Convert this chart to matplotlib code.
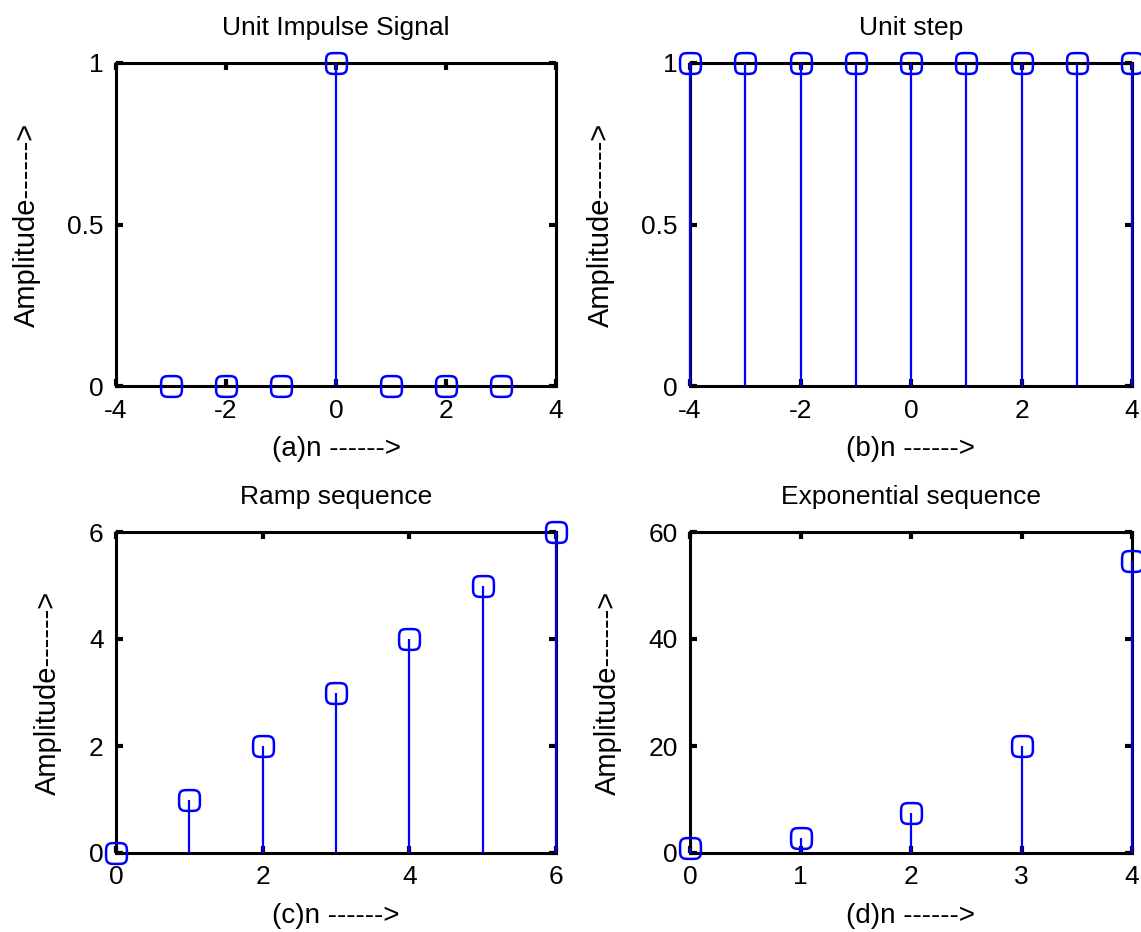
import matplotlib
matplotlib.use("Agg")
import matplotlib.pyplot as plt
from matplotlib.path import Path
import numpy as np

plt.rcParams['font.family'] = ['Liberation Sans', 'DejaVu Sans']
plt.rcParams['axes.unicode_minus'] = False

# Data
n_impulse = [-3, -2, -1, 0, 1, 2, 3]
y_impulse = [0, 0, 0, 1, 0, 0, 0]

n_step = [-4, -3, -2, -1, 0, 1, 2, 3, 4]
y_step = [1, 1, 1, 1, 1, 1, 1, 1, 1]

n_ramp = [0, 1, 2, 3, 4, 5, 6]
y_ramp = [0, 1, 2, 3, 4, 5, 6]

n_exp = [0, 1, 2, 3, 4]
y_exp = [1.0, 2.72, 7.39, 20.09, 54.6]

titles = ["Unit Impulse Signal", "Unit step", "Ramp sequence", "Exponential sequence"]
xlabels = ["(a)n ------>", "(b)n ------>", "(c)n ------>", "(d)n ------>"]
ylabel = "Amplitude------>"

xlims = [(-4, 4), (-4, 4), (0, 6), (0, 4)]
ylims = [(0, 1), (0, 1), (0, 6), (0, 60)]
xticks = [[-4, -2, 0, 2, 4], [-4, -2, 0, 2, 4], [0, 2, 4, 6], [0, 1, 2, 3, 4]]
yticks = [[0, 0.5, 1], [0, 0.5, 1], [0, 2, 4, 6], [0, 20, 40, 60]]
yticklabels = [["0", "0.5", "1"], ["0", "0.5", "1"], ["0", "2", "4", "6"], ["0", "20", "40", "60"]]

data = [(n_impulse, y_impulse), (n_step, y_step), (n_ramp, y_ramp), (n_exp, y_exp)]

# MATLAB-like low-res circle marker (rounded square shape)
t = np.linspace(0, 2 * np.pi, 81)
p = 0.5
mx = np.sign(np.cos(t)) * np.abs(np.cos(t)) ** p
my = np.sign(np.sin(t)) * np.abs(np.sin(t)) ** p
marker_path = Path(np.column_stack([mx, my]), closed=True)

W, H = 1141, 932
fig = plt.figure(figsize=(W / 100, H / 100), dpi=100)

# axes boxes in pixels: left, top, right, bottom
boxes = [(116, 63, 556, 386), (690, 63, 1132, 386),
         (116, 532, 556, 853), (690, 532, 1132, 853)]

blue = '#0000ff'
fs = 19

for i, ((xs, ys), (l, t_, r, b)) in enumerate(zip(data, boxes)):
    ax = fig.add_axes([l / W, 1 - b / H, (r - l) / W, (b - t_) / H])
    ax.vlines(xs, 0, ys, color=blue, linewidth=1.6, clip_on=False, zorder=3)
    ax.plot(xs, ys, linestyle='none', marker=marker_path, markersize=15,
            markerfacecolor='none', markeredgecolor=blue, markeredgewidth=1.8,
            clip_on=False, zorder=4)
    ax.set_xlim(*xlims[i])
    ax.set_ylim(*ylims[i])
    ax.set_xticks(xticks[i])
    ax.set_yticks(yticks[i])
    ax.set_yticklabels(yticklabels[i])
    ax.tick_params(direction='in', length=5, width=3, top=True, right=True,
                   labelsize=fs, color='black')
    ax.tick_params(axis='x', pad=9)
    ax.tick_params(axis='y', pad=9)
    for s in ax.spines.values():
        s.set_linewidth(2.2)
        s.set_color('black')
    ax.set_title(titles[i], fontsize=fs, pad=20)
    ax.set_xlabel(xlabels[i], fontsize=fs + 1, labelpad=10)
    ax.set_ylabel(ylabel, fontsize=fs + 2, labelpad=19)

fig.savefig("out.png", dpi=100)
